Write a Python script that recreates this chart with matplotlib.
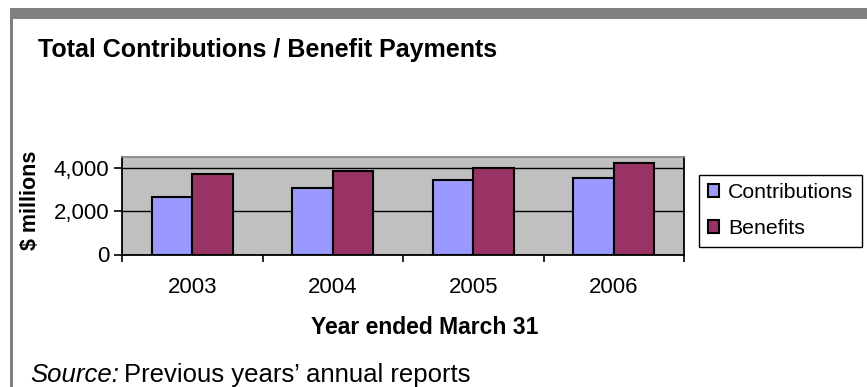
import numpy as np
import matplotlib
matplotlib.use('Agg')
import matplotlib.pyplot as plt
from matplotlib.patches import Rectangle

plt.rcParams['font.family'] = ['Liberation Sans', 'DejaVu Sans']

years = ['2003', '2004', '2005', '2006']
contributions = [2680, 3065, 3450, 3555]
benefits = [3740, 3850, 4000, 4215]

W, H = 867, 387
fig = plt.figure(figsize=(W / 100, H / 100), dpi=100)
fig.patch.set_facecolor('white')

# grey page frame: band across the top, thin rule down the left
fig.patches.append(Rectangle((10 / W, 1 - 19 / H), 1, 11 / H, transform=fig.transFigure,
                             facecolor='#808080', edgecolor='none'))
fig.patches.append(Rectangle((10 / W, 0), 3 / W, 1 - 8 / H, transform=fig.transFigure,
                             facecolor='#808080', edgecolor='none'))

ax = fig.add_axes([122 / W, 1 - 254.5 / H, (684 - 122) / W, (254.5 - 157.3) / H])
ax.set_facecolor('#C0C0C0')

x = np.arange(len(years))
bw = 0.29
ax.bar(x - bw / 2, contributions, bw, color='#9999FF', edgecolor='black', linewidth=1.5,
       label='Contributions', zorder=3)
ax.bar(x + bw / 2, benefits, bw, color='#993366', edgecolor='black', linewidth=1.5,
       label='Benefits', zorder=3)

ax.set_xlim(-0.5, len(years) - 0.5)
ax.set_ylim(0, 4500)
ax.set_yticks([0, 2000, 4000])
ax.set_yticklabels(['0', '2,000', '4,000'])
ax.yaxis.grid(True, color='black', linewidth=1)
ax.set_axisbelow(True)

# tick marks on category boundaries, labels centred under each group
ax.set_xticks(np.arange(-0.5, len(years)), [''] * (len(years) + 1))
ax.set_xticks(x, years, minor=True)
ax.tick_params(axis='x', which='minor', length=0, pad=16, labelsize=16)
ax.tick_params(axis='x', which='major', length=5, width=1.2, direction='out')
ax.tick_params(axis='y', length=6, width=1.2, direction='out', labelsize=16, pad=3)

for s in ['left', 'bottom', 'right']:
    ax.spines[s].set_color('black')
    ax.spines[s].set_linewidth(1.3)
ax.spines['top'].set_color('#808080')
ax.spines['top'].set_linewidth(1.2)

fig.text(38 / W, 1 - 57 / H, 'Total Contributions / Benefit Payments', fontsize=18,
         fontweight='bold', ha='left', va='baseline')
fig.text(30 / W, 1 - 200 / H, '$ millions', fontsize=15.5, fontweight='bold',
         rotation=90, ha='center', va='center')
fig.text(425 / W, 1 - 327 / H, 'Year ended March 31', fontsize=16.5, fontweight='bold',
         ha='center', va='center')
src = fig.text(30 / W, 1 - 375 / H, 'Source:', fontsize=18.5, fontstyle='italic',
               ha='left', va='center')
fig.canvas.draw()
bb = src.get_window_extent()
fig.text((bb.x1 + 5) / W, 1 - 375 / H, 'Previous years\u2019 annual reports', fontsize=18.5,
         ha='left', va='center')

leg = fig.legend(loc='center left', bbox_to_anchor=(699 / W, 1 - 210.5 / H), fontsize=15.3,
                 frameon=True, fancybox=False, edgecolor='black', framealpha=1,
                 handlelength=0.55, handleheight=0.55, handletextpad=0.43,
                 labelspacing=0.8, borderpad=0.4, borderaxespad=0)
leg.get_frame().set_linewidth(1)

fig.savefig('out.png', dpi=100)
